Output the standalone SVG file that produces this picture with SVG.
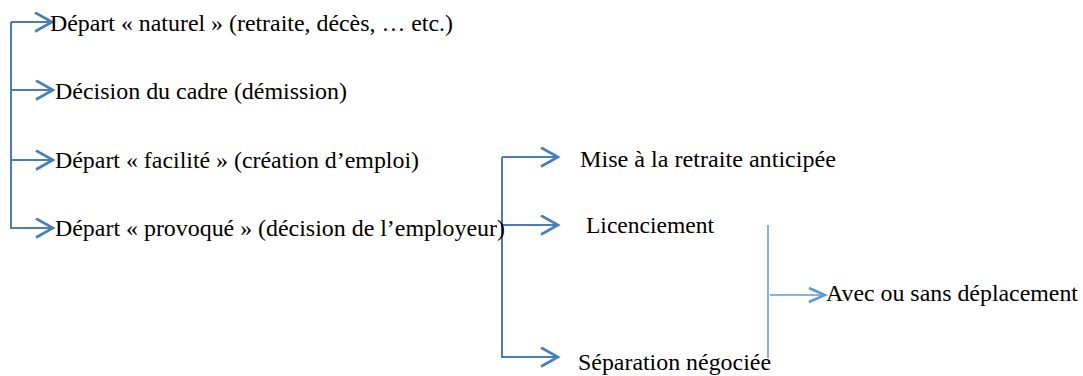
<svg xmlns="http://www.w3.org/2000/svg" width="1083" height="376" viewBox="0 0 1083 376">
<style>
text{font-family:"Liberation Serif","Times New Roman",serif;font-size:24px;fill:#000}
.c{fill:none;stroke:#4a7ebb;stroke-width:2}
.c2{fill:none;stroke:#5b9bd5;stroke-width:1.5}
</style>
<defs>
<marker id="ah" markerWidth="22" markerHeight="24" refX="18" refY="10" orient="auto" markerUnits="userSpaceOnUse">
<path d="M1,0.5 L18,10 L1,19.5" fill="none" stroke="#4a7ebb" stroke-width="2.6"/>
</marker>
<marker id="ah2" markerWidth="20" markerHeight="20" refX="17" refY="9" orient="auto" markerUnits="userSpaceOnUse">
<path d="M1,2 L17,9 L1,16" fill="none" stroke="#5b9bd5" stroke-width="2.5"/>
</marker>
</defs>
<rect width="1083" height="376" fill="#fff"/>
<g id="connectors">
<path class="c" d="M11,22 V229"/>
<path class="c" d="M11,22 H52" marker-end="url(#ah)"/>
<path class="c" d="M11,90 H53" marker-end="url(#ah)"/>
<path class="c" d="M11,160 H53" marker-end="url(#ah)"/>
<path class="c" d="M11,228 H53" marker-end="url(#ah)"/>
<path class="c" d="M502,157 V358"/>
<path class="c" d="M502,157 H558" marker-end="url(#ah)"/>
<path class="c" d="M502,225 H558" marker-end="url(#ah)"/>
<path class="c" d="M502,357 H558" marker-end="url(#ah)"/>
<path class="c2" d="M768,225 V358"/>
<path class="c2" d="M770,295 H825" marker-end="url(#ah2)"/>
</g>
<g id="n1"><text x="50" y="31" textLength="403" lengthAdjust="spacingAndGlyphs">Départ « naturel » (retraite, décès, … etc.)</text></g>
<g id="n2"><text x="55" y="99" textLength="292" lengthAdjust="spacingAndGlyphs">Décision du cadre (démission)</text></g>
<g id="n3"><text x="55" y="168" textLength="364" lengthAdjust="spacingAndGlyphs">Départ « facilité » (création d’emploi)</text></g>
<g id="n4"><text x="55" y="236" textLength="450" lengthAdjust="spacingAndGlyphs">Départ « provoqué » (décision de l’employeur)</text></g>
<g id="n5"><text x="580" y="167" textLength="256" lengthAdjust="spacingAndGlyphs">Mise à la retraite anticipée</text></g>
<g id="n6"><text x="586" y="233" textLength="128" lengthAdjust="spacingAndGlyphs">Licenciement</text></g>
<g id="n7"><text x="578" y="370" textLength="193" lengthAdjust="spacingAndGlyphs">Séparation négociée</text></g>
<g id="n8"><text x="826" y="301" textLength="252" lengthAdjust="spacingAndGlyphs">Avec ou sans déplacement</text></g>
</svg>
